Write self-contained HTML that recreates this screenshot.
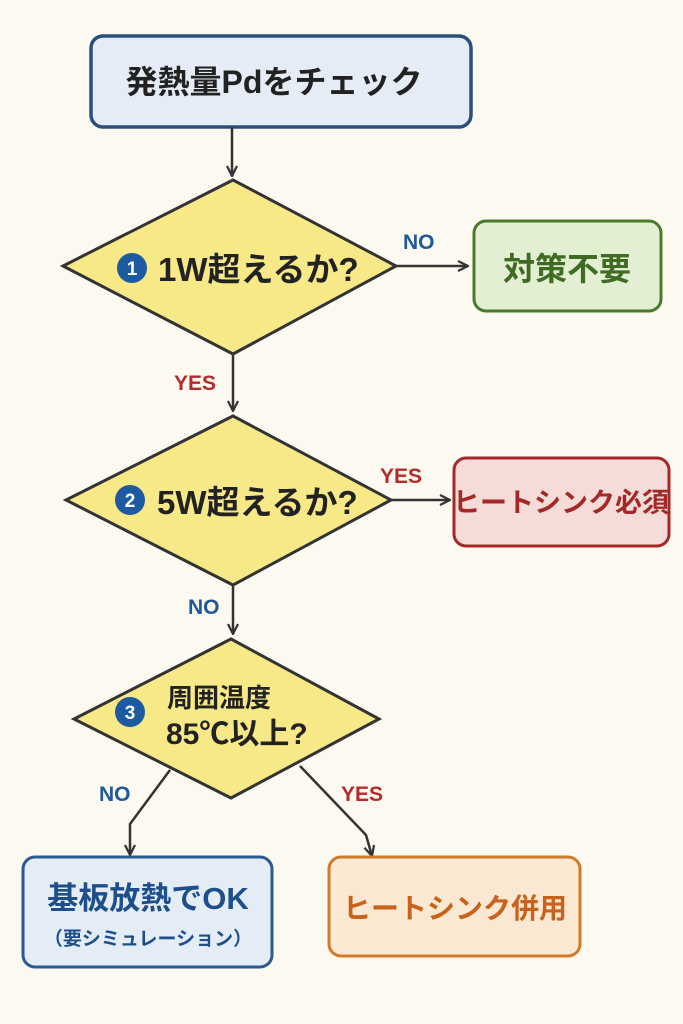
<!DOCTYPE html>
<html><head><meta charset="utf-8"><style>
html,body{margin:0;padding:0;background:#fcf9f1;}
svg{display:block}
text{font-family:"Liberation Sans","Noto Sans CJK JP",sans-serif;font-weight:bold;}
</style></head><body>
<svg width="683" height="1024" viewBox="0 0 683 1024" xmlns="http://www.w3.org/2000/svg">
<defs>
<marker id="a" viewBox="0 0 12 12" refX="11" refY="6" markerWidth="12" markerHeight="12" markerUnits="userSpaceOnUse" orient="auto">
<path d="M1 1 L11 6 L1 11" fill="none" stroke="#333" stroke-width="2.2"/></marker>
</defs>
<rect width="683" height="1024" fill="#fcf9f1"/>
<rect x="91" y="36" width="380" height="91" rx="12" fill="#e6ecf5" stroke="#2a4f7c" stroke-width="3.5"/>
<text x="274" y="93" font-size="32" text-anchor="middle" fill="#222">発熱量Pdをチェック</text>
<line x1="232" y1="127" x2="232" y2="176" stroke="#333" stroke-width="2.5" marker-end="url(#a)"/>
<polygon points="233,180 396,266 233,354 63,266" fill="#f7e888" stroke="#333" stroke-width="3"/>
<circle cx="132" cy="268" r="15" fill="#1d5aa0"/>
<text x="132" y="275" font-size="19" text-anchor="middle" fill="#fff">1</text>
<text x="158" y="281" font-size="33" fill="#222">1W超えるか?</text>
<line x1="396" y1="266" x2="468" y2="266" stroke="#333" stroke-width="2.5" marker-end="url(#a)"/>
<text x="403" y="249" font-size="21" fill="#1e5a9a">NO</text>
<rect x="474" y="221" width="187" height="90" rx="12" fill="#e3efd3" stroke="#4a7a2a" stroke-width="3"/>
<text x="567" y="280" font-size="32" text-anchor="middle" fill="#3f6b22">対策不要</text>
<line x1="233" y1="354" x2="233" y2="411" stroke="#333" stroke-width="2.5" marker-end="url(#a)"/>
<text x="174" y="390" font-size="21" fill="#b52a2a">YES</text>
<polygon points="233,416 391,500 233,585 66,500" fill="#f7e888" stroke="#333" stroke-width="3"/>
<circle cx="130" cy="500" r="15" fill="#1d5aa0"/>
<text x="130" y="507" font-size="19" text-anchor="middle" fill="#fff">2</text>
<text x="157" y="514" font-size="33" fill="#222">5W超えるか?</text>
<line x1="391" y1="500" x2="450" y2="500" stroke="#333" stroke-width="2.5" marker-end="url(#a)"/>
<text x="380" y="483" font-size="21" fill="#b52a2a">YES</text>
<rect x="454" y="458" width="215" height="88" rx="12" fill="#f5dcd8" stroke="#a52828" stroke-width="3"/>
<text x="561" y="512" font-size="27" text-anchor="middle" fill="#a52828">ヒートシンク必須</text>
<line x1="233" y1="585" x2="233" y2="634" stroke="#333" stroke-width="2.5" marker-end="url(#a)"/>
<text x="188" y="614" font-size="21" fill="#1e5a9a">NO</text>
<polygon points="231,639 379,719 231,798 74,719" fill="#f7e888" stroke="#333" stroke-width="3"/>
<circle cx="130" cy="712" r="15" fill="#1d5aa0"/>
<text x="130" y="719" font-size="19" text-anchor="middle" fill="#fff">3</text>
<text x="167" y="707" font-size="26" fill="#222">周囲温度</text>
<text x="166" y="744" font-size="30" fill="#222">85℃以上?</text>
<polyline points="170,770 130,824 130,855" fill="none" stroke="#333" stroke-width="2.5" marker-end="url(#a)"/>
<text x="99" y="801" font-size="21" fill="#1e5a9a">NO</text>
<polyline points="300,766 366,835 372,856" fill="none" stroke="#333" stroke-width="2.5" marker-end="url(#a)"/>
<text x="341" y="801" font-size="21" fill="#b52a2a">YES</text>
<rect x="23" y="857" width="249" height="110" rx="12" fill="#e4ecf6" stroke="#2a5a92" stroke-width="3"/>
<text x="148" y="909" font-size="31" text-anchor="middle" fill="#1e4f8a">基板放熱でOK</text>
<text x="148" y="945" font-size="19" text-anchor="middle" fill="#1e4f8a">（要シミュレーション）</text>
<rect x="329" y="857" width="251" height="99" rx="12" fill="#fae8d3" stroke="#d07a2a" stroke-width="3"/>
<text x="455" y="918" font-size="28" text-anchor="middle" fill="#c8621a">ヒートシンク併用</text>
</svg>
</body></html>
